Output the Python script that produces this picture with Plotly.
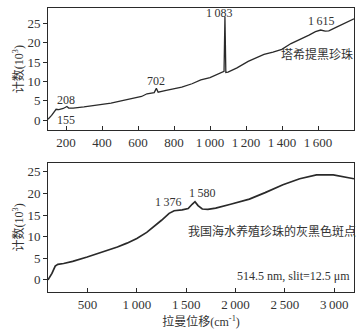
import plotly.graph_objects as go
from plotly.subplots import make_subplots

# Spectrum 1: Tahitian black pearl
x_top = [100, 120, 145, 160, 185, 205, 215, 240, 300, 391, 450, 500, 577, 620, 650, 690,
         702, 712, 750, 800, 843, 900, 949, 1000, 1040, 1078, 1083, 1088, 1100, 1150,
         1212, 1250, 1300, 1350, 1399, 1450, 1500, 1550, 1586, 1615, 1640, 1660, 1700,
         1750, 1800]
y_top = [0.2, 1.2, 2.8, 2.7, 3.0, 3.5, 3.1, 3.1, 3.4, 3.9, 4.4, 4.9, 5.6, 6.1, 6.8, 7.1,
         8.2, 7.2, 7.6, 8.1, 8.5, 9.4, 10.4, 11.0, 11.8, 12.6, 26.7, 12.3, 12.4, 13.5,
         15.2, 16.0, 17.0, 17.6, 18.3, 19.8, 20.8, 22.0, 22.9, 23.3, 23.0, 23.1, 24.0,
         25.0, 26.2]

# Spectrum 2: grey-black spots of seawater cultured pearl
x_bot = [100, 140, 173, 200, 258, 350, 497, 650, 803, 900, 1000, 1100, 1173, 1250, 1327,
         1378, 1459, 1520, 1560, 1589, 1620, 1663, 1720, 1799, 1950, 2140, 2300, 2480,
         2650, 2820, 2990, 3100, 3200]
y_bot = [0.0, 1.5, 3.2, 3.6, 3.8, 4.3, 5.3, 6.4, 7.6, 8.5, 9.6, 11.0, 12.3, 13.8, 15.4,
         16.0, 16.2, 16.5, 17.5, 18.1, 17.2, 16.4, 16.3, 16.6, 17.5, 18.7, 20.2, 22.0,
         23.4, 24.3, 24.3, 23.9, 23.4]

top_ticks = [200, 400, 600, 800, 1000, 1200, 1400, 1600]
top_ticktext = ["200", "400", "600", "800", "1\u2009000", "1\u2009200", "1\u2009400", "1\u2009600"]
bot_ticks = [500, 1000, 1500, 2000, 2500, 3000]
bot_ticktext = ["500", "1\u2009000", "1\u2009500", "2\u2009000", "2\u2009500", "3\u2009000"]
y_ticks = [0, 5, 10, 15, 20, 25]

FONT = "Liberation Serif, Noto Sans CJK SC"
ink = "#2a2a2a"

fig = make_subplots(rows=2, cols=1, vertical_spacing=0.11)

fig.add_trace(go.Scatter(x=x_top, y=y_top, mode="lines",
                         line=dict(color=ink, width=1.3), showlegend=False), row=1, col=1)
fig.add_trace(go.Scatter(x=x_bot, y=y_bot, mode="lines",
                         line=dict(color=ink, width=1.7), showlegend=False), row=2, col=1)

ax = dict(showline=True, linecolor=ink, linewidth=1, mirror=True, showgrid=False,
          zeroline=False, ticks="outside", ticklen=4, tickcolor=ink,
          tickfont=dict(family=FONT, size=13, color="#333"))

fig.update_xaxes(**ax)
fig.update_yaxes(**ax)
fig.update_xaxes(ticks="inside", row=1, col=1, range=[100, 1800],
                 tickvals=top_ticks, ticktext=top_ticktext)
fig.update_xaxes(ticks="inside", row=2, col=1, range=[100, 3200],
                 tickvals=bot_ticks, ticktext=bot_ticktext,
                 title=dict(text="拉曼位移(cm<sup>-1</sup>)", font=dict(family=FONT, size=12, color="#333"),
                            standoff=7))
fig.update_yaxes(row=1, col=1, range=[-2.6, 29], tickvals=y_ticks,
                 title=dict(text="计数(10<sup>3</sup>)", font=dict(family=FONT, size=12, color="#333"),
                            standoff=1))
fig.update_yaxes(row=2, col=1, range=[-2.8, 27.1], tickvals=y_ticks,
                 title=dict(text="计数(10<sup>3</sup>)", font=dict(family=FONT, size=12, color="#333"),
                            standoff=1))

fig.update_layout(
    width=362, height=335,
    margin=dict(l=48, r=8, t=8, b=43),
    plot_bgcolor="white", paper_bgcolor="white",
    yaxis=dict(domain=[0.57, 1.0]),
    yaxis2=dict(domain=[0.0, 0.455]),
)

lab = dict(family=FONT, size=12, color="#333")
notes = [
    ("x", "y", 1050, 27.6, "1\u2009083"),
    ("x", "y", 1615, 25.6, "1\u2009615"),
    ("x", "y", 700, 10.2, "702"),
    ("x", "y", 200, 5.3, "208"),
    ("x", "y", 200, 0.0, "155"),
    ("x2", "y2", 1320, 18.0, "1\u2009376"),
    ("x2", "y2", 1660, 20.1, "1\u2009580"),
]
for xr, yr, xv, yv, t in notes:
    fig.add_annotation(xref=xr, yref=yr, x=xv, y=yv, text=t, showarrow=False, font=lab)

fig.add_annotation(xref="x", yref="y", x=1595, y=17, text="塔希提黑珍珠", showarrow=False,
                   font=dict(family=FONT, size=12, color="#333"))
fig.add_annotation(xref="x2", yref="y2", x=2370, y=11.3, text="我国海水养殖珍珠的灰黑色斑点",
                   showarrow=False, font=dict(family=FONT, size=12, color="#333"))
fig.add_annotation(xref="x2", yref="y2", x=3180, y=0.8, text="514.5 nm, slit=12.5 μm",
                   xanchor="right", showarrow=False, font=dict(family=FONT, size=12, color="#333"))

fig.write_html("out.html", config={"displayModeBar": False},
               post_script="document.body.style.margin='0';")
